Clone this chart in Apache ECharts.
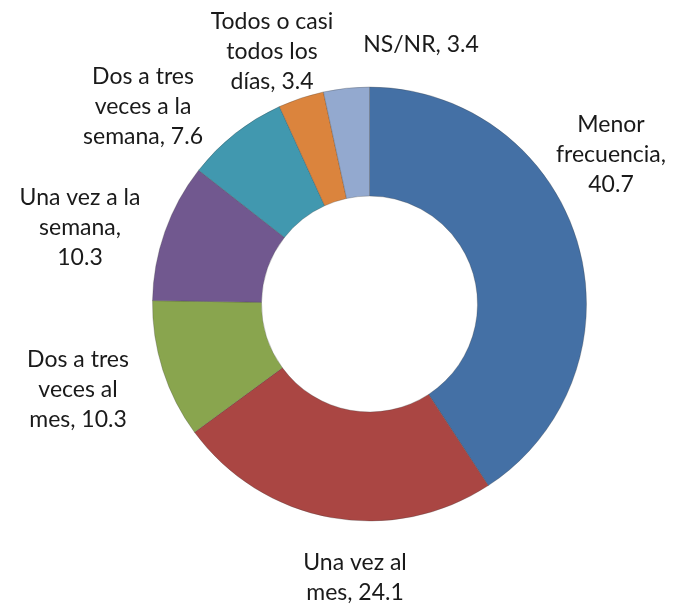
<!DOCTYPE html>
<html>
<head>
<meta charset="utf-8">
<script src="https://cdn.jsdelivr.net/npm/echarts@6/dist/echarts.min.js"></script>
<style>
  html, body { margin: 0; padding: 0; background: #fff; }
  #chart { width: 674px; height: 610px; }
</style>
</head>
<body>
<div id="chart"></div>
<script>
// data
const categories = ['Menor frecuencia', 'Una vez al mes', 'Dos a tres veces al mes', 'Una vez a la semana',
  'Dos a tres veces a la semana', 'Todos o casi todos los días', 'NS/NR'];
const values = [40.7, 24.1, 10.3, 10.3, 7.6, 3.4, 3.4];
// how each label is broken into lines (value appended)
const labelWrap = ['Menor\nfrecuencia,\n', 'Una vez al\nmes, ', 'Dos a tres\nveces al\nmes, ', 'Una vez a la\nsemana,\n',
  'Dos a tres\nveces a la\nsemana, ', 'Todos o casi\ntodos los\ndías, ', 'NS/NR, '];
const colors = ['#4470A5', '#AA4643', '#89A54E', '#71588F', '#4198AF', '#DB843D', '#93A9CF'];
// label block centres (px)
const labelPos = [[611, 155], [355, 578], [78, 390], [80, 228], [143, 107], [272, 52], [421, 45]];

const chart = echarts.init(document.getElementById('chart'));
chart.setOption({
  animation: false,
  series: [{
    type: 'pie',
    center: [369.5, 304],
    radius: [108, 217],
    startAngle: 90,
    clockwise: true,
    data: categories.map((c, i) => ({ name: c, value: values[i], itemStyle: { color: colors[i] } })),
    itemStyle: { borderColor: 'rgba(60,60,60,0.35)', borderWidth: 0.8 },
    label: {
      show: true,
      position: 'outside',
      formatter: p => labelWrap[p.dataIndex] + p.value.toFixed(1),
      fontFamily: 'Lato',
      fontSize: 23,
      lineHeight: 30,
      color: '#1a1a1a',
      align: 'center',
      overflow: 'none'
    },
    labelLine: { show: false },
    labelLayout: p => ({
      x: labelPos[p.dataIndex][0],
      y: labelPos[p.dataIndex][1],
      align: 'center',
      verticalAlign: 'middle'
    })
  }]
});
</script>
</body>
</html>
